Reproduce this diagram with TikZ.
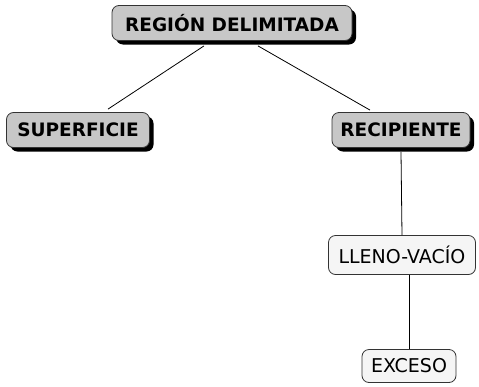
\documentclass[tikz,border=0pt]{standalone}
\usepackage{fontspec}
\setmainfont{DejaVu Sans}
\usetikzlibrary{shadows,positioning}

\begin{document}
\begin{tikzpicture}[x=1pt, y=-1pt,
  concept/.style={draw=black!80,line width=0.8pt,rounded corners=7pt,fill=black!22,align=center,inner xsep=6pt,minimum height=35pt,font=\fontsize{18.5}{22}\selectfont\bfseries,drop shadow={shadow xshift=4pt,shadow yshift=-4pt,fill=black,opacity=1}},
  leaf/.style={draw=black!80,line width=0.8pt,rounded corners=7pt,fill=black!4,align=center,inner xsep=8pt,minimum height=37pt,font=\fontsize{19}{22}\selectfont}]
\useasboundingbox (0,0) rectangle (479,386);
\node[concept,minimum width=240pt] (region) at (232,23) {REGIÓN DELIMITADA};
\node[concept,minimum width=143pt] (superficie) at (78,130) {SUPERFICIE};
\node[concept,minimum width=138pt] (recipiente) at (401,130) {RECIPIENTE};
\node[leaf,minimum width=147pt,minimum height=39pt] (llenovacio) at (402,255) {LLENO-VACÍO};
\node[leaf,minimum width=94pt,minimum height=33pt] (exceso) at (409,366) {EXCESO};
\draw[line width=0.8pt] ([xshift=-28pt,yshift=-5pt]region.south) -- ([xshift=30pt,yshift=3pt]superficie.north);
\draw[line width=0.8pt] ([xshift=26pt,yshift=-5pt]region.south) -- ([xshift=-31pt,yshift=2pt]recipiente.north);
\draw[line width=0.8pt] ([yshift=-4pt]recipiente.south) -- (llenovacio.north);
\draw[line width=0.8pt] ([xshift=7pt]llenovacio.south) -- (exceso.north);
\end{tikzpicture}
\end{document}
